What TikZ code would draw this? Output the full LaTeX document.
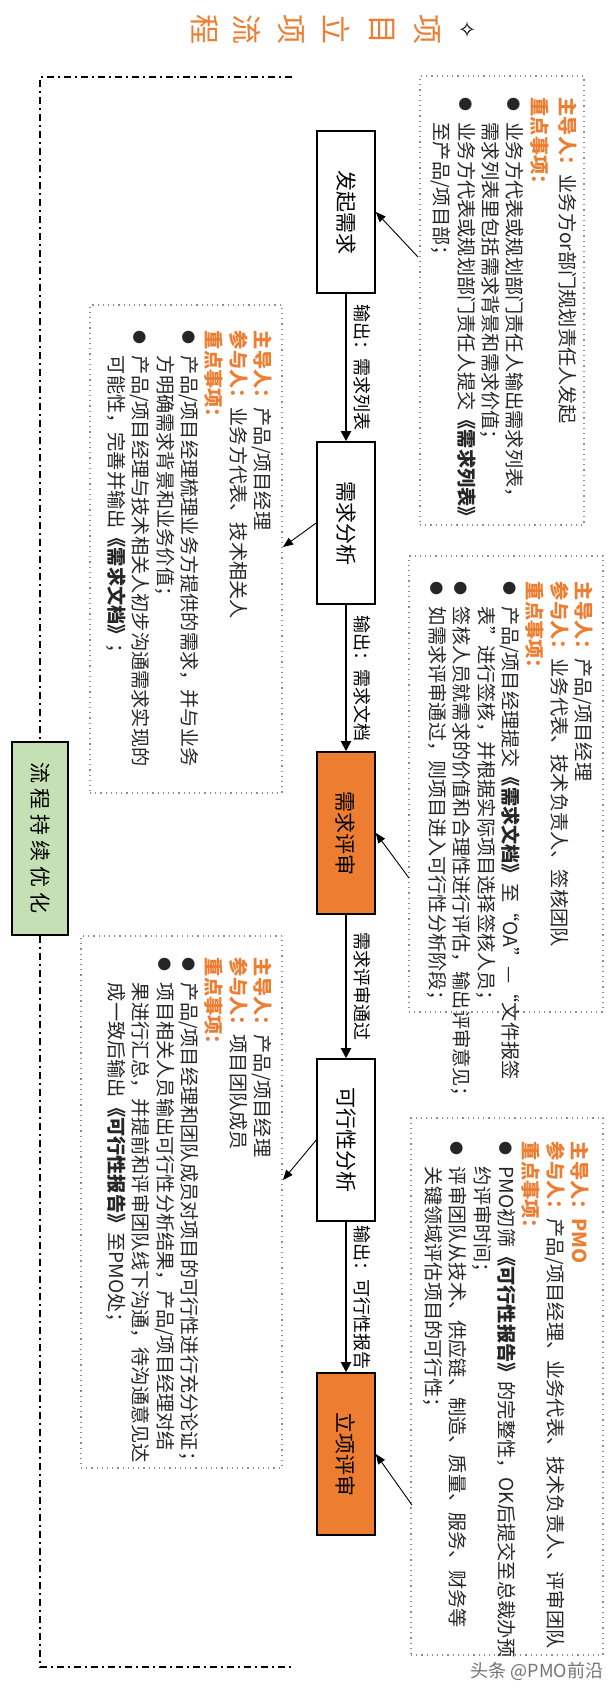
\documentclass[tikz,border=0pt]{standalone}
\usepackage{fontspec}
\setmainfont{Noto Sans CJK SC}
\newfontfamily\symfont{DejaVu Sans}
\usetikzlibrary{arrows.meta}
\definecolor{pmoorange}{HTML}{ED7D31}
\definecolor{pmogreen}{HTML}{C5E0B4}
\newcommand{\nbul}{\makebox[12.5pt][l]{\raisebox{0.5pt}{\fontsize{7pt}{7pt}\selectfont ●}}}
\newcommand{\nind}{\hspace*{12.5pt}}
\newcommand{\olab}[1]{{\color{pmoorange}\bfseries #1}}
\begin{document}
\begin{tikzpicture}[x=0.5pt,y=-0.5pt,
  stepbox/.style={draw=black, line width=0.8pt, rotate=-90, minimum width=81pt, minimum height=29pt, inner sep=0pt, font=\fontsize{10.5pt}{12pt}\selectfont},
  keybox/.style={stepbox, fill=pmoorange},
  notebox/.style={draw=black!45, dotted, line width=0.6pt, inner sep=0pt},
  notetext/.style={rotate=-90, anchor=north west, align=left, inner sep=0pt, text=black!85, font=\fontsize{9.6pt}{12.2pt}\selectfont},
  flow/.style={line width=1pt, -{Triangle[length=5pt,width=5pt]}},
  notearrow/.style={line width=0.45pt, -{Triangle[length=5pt,width=4pt]}},
  flowlabel/.style={midway, rotate=-90, anchor=south, inner sep=3.5pt, font=\fontsize{9pt}{10pt}\selectfont},
  loopline/.style={line width=1pt, dash pattern=on 3.5pt off 2pt on 1pt off 2pt},
  titlechar/.style={rotate=-90, text=pmoorange, inner sep=0pt, font=\fontsize{15pt}{15pt}\selectfont}
]
\useasboundingbox (0,0) rectangle (614,1691);

% title
\node[rotate=-90, inner sep=0pt, font=\symfont\fontsize{11pt}{11pt}\selectfont] (star) at (468,30) {✧};
\node[titlechar] (t1) at (427,30) {项};
\node[titlechar] (t2) at (382,30) {目};
\node[titlechar] (t3) at (337,30) {立};
\node[titlechar] (t4) at (291,30) {项};
\node[titlechar] (t5) at (247,30) {流};
\node[titlechar] (t6) at (205,30) {程};

% main steps
\node[stepbox] (b1) at (346,212) {发起需求};
\node[stepbox] (b2) at (346,523) {需求分析};
\node[keybox]  (b3) at (346,833) {需求评审};
\node[stepbox] (b4) at (346,1140) {可行性分析};
\node[keybox]  (b5) at (346,1454) {立项评审};

\draw[flow] (b1) -- node[flowlabel]{输出：需求列表} (b2);
\draw[flow] (b2) -- node[flowlabel]{输出：需求文档} (b3);
\draw[flow] (b3) -- node[flowlabel]{需求评审通过} (b4);
\draw[flow] (b4) -- node[flowlabel]{输出：可行性报告} (b5);

% green box and loop
\node[draw=black, line width=1pt, fill=pmogreen, rotate=-90, minimum width=96.5pt, minimum height=28pt, inner sep=0pt, font=\fontsize{10.5pt}{12pt}\selectfont] (g) at (40,838) {流\hspace{2.5pt}程\hspace{2.5pt}持\hspace{2.5pt}续\hspace{2.5pt}优\hspace{2.5pt}化};
\coordinate (lt) at (292,77);
\coordinate (lb) at (292,1667);
\draw[loopline] (lt) -| (g.west);
\draw[loopline] (g.east) |- (lb);

% notes
\node[notebox, minimum width=82pt, minimum height=224.5pt] (n1) at (502,300.5) {};
\node[notetext] (x1) at ([xshift=-3.5pt,yshift=-11pt]n1.north east) {%
\olab{主导人：}业务方or部门规划责任人发起\\[2pt]
\olab{重点事项：}\\
\nbul 业务方代表或规划部门责任人输出需求列表，\\
\nind 需求列表里包括需求背景和需求价值；\\
\nbul 业务方代表或规划部门责任人提交{\bfseries 《需求列表》}\\
\nind 至产品/项目部；};

\node[notebox, minimum width=96pt, minimum height=244pt] (n2) at (186,549) {};
\node[notetext] (x2) at ([xshift=-5pt,yshift=-13pt]n2.north east) {%
\olab{主导人：}产品/项目经理\\
\olab{参与人：}业务方代表、技术相关人\\
\olab{重点事项：}\\
\nbul 产品/项目经理梳理业务方提供的需求，并与业务\\
\nind 方明确需求背景和业务价值；\\
\nbul 产品/项目经理与技术相关人初步沟通需求实现的\\
\nind 可能性，完善并输出{\bfseries 《需求文档》}；};

\node[notebox, minimum width=97pt, minimum height=228pt] (n3) at (506,784) {};
\node[notetext] (x3) at ([xshift=-5pt,yshift=-13pt]n3.north east) {%
\olab{主导人：}产品/项目经理\\
\olab{参与人：}业务代表、技术负责人、签核团队\\
\olab{重点事项：}\\
\nbul 产品/项目经理提交{\bfseries 《需求文档》}至“OA”—“文件报签\\
\nind 表”进行签核，并根据实际项目选择签核人员；\\
\nbul 签核人员就需求的价值和合理性进行评估，输出评审意见；\\
\nbul 如需求评审通过，则项目进入可行性分析阶段；};

\node[notebox, minimum width=100.5pt, minimum height=266pt] (n4) at (181.5,1202) {};
\node[notetext] (x4) at ([xshift=-5pt,yshift=-11pt]n4.north east) {%
\olab{主导人：}产品/项目经理\\
\olab{参与人：}项目团队成员\\
\olab{重点事项：}\\
\nbul 产品/项目经理和团队成员对项目的可行性进行充分论证；\\
\nbul 项目相关人员输出可行性分析结果，产品/项目经理对结\\
\nind 果进行汇总，并提前和评审团队线下沟通，待沟通意见达\\
\nind 成一致后输出{\bfseries 《可行性报告》}至PMO处；};

\node[notebox, minimum width=96pt, minimum height=268.5pt] (n5) at (507,1386.5) {};
\node[notetext] (x5) at ([xshift=-7pt,yshift=-12pt]n5.north east) {%
\olab{主导人：PMO}\\
\olab{参与人：}产品/项目经理、业务代表、技术负责人、评审团队\\
\olab{重点事项：}\\
\nbul PMO初筛{\bfseries 《可行性报告》}的完整性，OK后提交至总裁办预\\
\nind 约评审时间；\\
\nbul 评审团队从技术、供应链、制造、质量、服务、财务等\\
\nind 关键领域评估项目的可行性；};

% note arrows
\coordinate (p1) at (418,257);
\coordinate (p2) at (283,547);
\coordinate (p3) at (409,878);
\coordinate (p4) at (283,1180);
\coordinate (p5) at (412,1505);
\draw[notearrow] (p1) -- (b1.north);
\draw[notearrow] (b2.south) -- (p2);
\draw[notearrow] (p3) -- (b3.north);
\draw[notearrow] (b4.south) -- (p4);
\draw[notearrow] (p5) -- (b5.north);

% footer watermark
\node[text=black!55, inner sep=0pt, font=\fontsize{9pt}{9pt}\selectfont] (wm) at (537,1671) {头条 @PMO前沿};
\end{tikzpicture}
\end{document}
